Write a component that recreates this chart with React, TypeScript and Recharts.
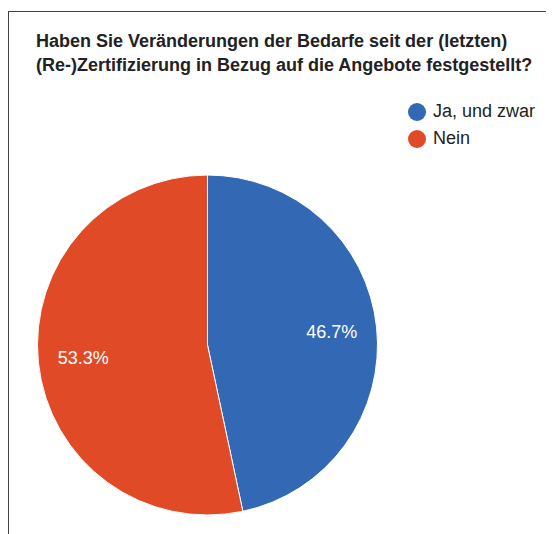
import { PieChart, Pie, Cell, Legend } from 'recharts'

const answers = ['Ja, und zwar', 'Nein']
const counts = [7, 8]
const COLORS = ['#3369b4', '#e14a26']

const TITLE = [
  'Haben Sie Veränderungen der Bedarfe seit der (letzten)',
  '(Re-)Zertifizierung in Bezug auf die Angebote festgestellt?',
]

const FONT = '"Liberation Sans", Arial, sans-serif'

const data = answers.map((name, i) => ({ name, value: counts[i] }))
const total = counts.reduce((a, b) => a + b, 0)

const RADIAN = Math.PI / 180

function renderLabel({ cx, cy, midAngle, outerRadius, value }: any) {
  const r = outerRadius * 0.735
  const x = cx + r * Math.cos(-midAngle * RADIAN)
  const y = cy + r * Math.sin(-midAngle * RADIAN)
  return (
    <text x={x} y={y} fill="#fff" textAnchor="middle" dominantBaseline="central" fontSize={18} fontFamily={FONT}>
      {((value / total) * 100).toFixed(1)}%
    </text>
  )
}

function LegendBox() {
  return (
    <div style={{ fontFamily: FONT }}>
      {data.map((d, i) => (
        <div key={d.name} style={{ display: 'flex', alignItems: 'center', height: 27 }}>
          <div style={{ width: 18, height: 18, borderRadius: '50%', background: COLORS[i], marginRight: 7 }} />
          <span style={{ fontSize: 18, color: '#222' }}>{d.name}</span>
        </div>
      ))}
    </div>
  )
}

export default function App() {
  return (
    <div
      style={{
        position: 'relative',
        marginTop: 3,
        width: 546,
        height: 523,
        borderTop: '1px solid #444',
        borderLeft: '1px solid #444',
        background: '#fff',
      }}
    >
      <div
        style={{
          position: 'absolute',
          left: 27,
          top: 17,
          fontFamily: FONT,
          fontWeight: 'bold',
          fontSize: 18,
          lineHeight: '24px',
          color: '#222',
          whiteSpace: 'nowrap',
        }}
      >
        {TITLE.map((t) => (
          <div key={t}>{t}</div>
        ))}
      </div>
      <PieChart width={545} height={522} margin={{ top: 0, right: 0, bottom: 0, left: 0 }}>
        <Pie
          data={data}
          dataKey="value"
          nameKey="name"
          cx={198.5}
          cy={333}
          outerRadius={170}
          startAngle={90}
          endAngle={-270}
          stroke="#fff"
          strokeWidth={1}
          label={renderLabel}
          labelLine={false}
          isAnimationActive={false}
        >
          {data.map((_, i) => (
            <Cell key={i} fill={COLORS[i]} />
          ))}
        </Pie>
        <Legend
          layout="vertical"
          verticalAlign="top"
          align="right"
          content={() => <LegendBox />}
          wrapperStyle={{ position: 'absolute', left: 399, top: 86, width: 146 }}
        />
      </PieChart>
    </div>
  )
}
